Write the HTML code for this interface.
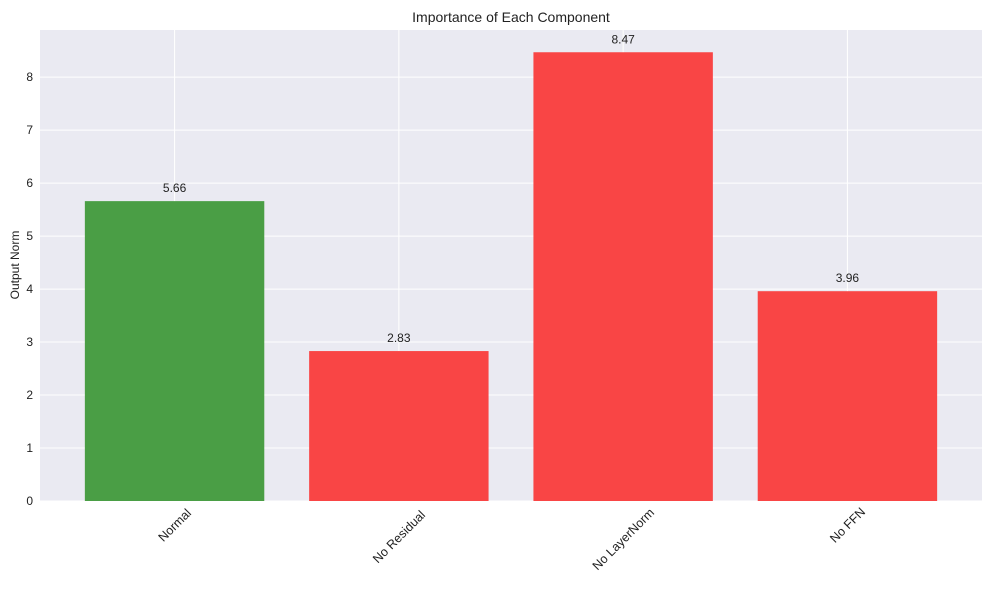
<!DOCTYPE html>
<html><head><meta charset="utf-8"><style>
body{margin:0;background:#fff;font-family:"Liberation Sans",sans-serif;}
</style></head><body>
<svg id="chart" width="989" height="590" xmlns="http://www.w3.org/2000/svg">
<rect x="40" y="30" width="942" height="471" fill="#eaeaf2"/>
<g id="grid"></g><g id="bars"></g><g id="labels"></g>
<text x="511" y="22" text-anchor="middle" font-size="14" fill="#222">Importance of Each Component</text>
<text transform="translate(19,265) rotate(-90)" text-anchor="middle" font-size="12" fill="#222">Output Norm</text>
</svg>
<script>
const categories=["Normal","No Residual","No LayerNorm","No FFN"];
const values=[5.66,2.83,8.47,3.96];
const barColors=["#4a9e45","#f94545","#f94545","#f94545"];
const yTicks=[0,1,2,3,4,5,6,7,8];
const NS="http://www.w3.org/2000/svg";
const L=40,R=982,T=30,B=501,yMax=8.89;
const y=v=>B-(v/yMax)*(B-T);
const step=(R-L)/(categories.length+0.2);
const x=i=>L+(i+0.6)*step;
function mk(t,a,p){const e=document.createElementNS(NS,t);for(const k in a)e.setAttribute(k,a[k]);p.appendChild(e);return e;}
const grid=document.getElementById('grid'),bars=document.getElementById('bars'),labels=document.getElementById('labels');
yTicks.forEach(t=>{
 const g=mk('line',{x1:L,x2:R,y1:y(t),y2:y(t),stroke:'#fff','stroke-width':1},grid);
 
 
 const tx=mk('text',{x:L-7,y:y(t)+4,'text-anchor':'end','font-size':12,fill:'#222'},labels);
 tx.textContent=t;
 
 
});
categories.forEach((c,i)=>{
 const g=mk('line',{x1:x(i),x2:x(i),y1:T,y2:B,stroke:'#fff','stroke-width':1},grid);
 
 
 const w=step*0.8;
 const r=mk('rect',{x:x(i)-w/2,y:y(values[i]),width:w,height:B-y(values[i]),fill:barColors[i]},bars);
 
 
 const v=mk('text',{x:x(i),y:y(values[i])-9,'text-anchor':'middle','font-size':12,fill:'#222'},labels);
 v.textContent=values[i].toFixed(2);
 
 
 const half=c.length*3.3;
 const xl=mk('text',{transform:`translate(${x(i)},${B+10+half*0.707}) rotate(-45)`,'text-anchor':'middle',dy:'0.35em','font-size':12.5,fill:'#222'},labels);
 xl.textContent=c;
 
 
});
</script>
</body></html>
